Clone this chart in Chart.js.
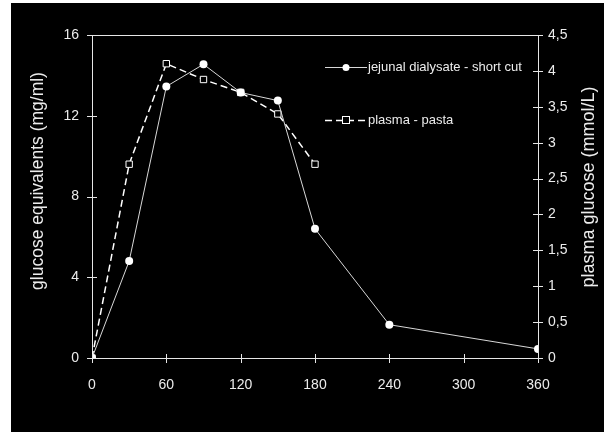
<!DOCTYPE html>
<html>
<head>
<meta charset="utf-8">
<script src="https://cdn.jsdelivr.net/npm/chart.js@4.4.0/dist/chart.umd.min.js"></script>
<style>
  html, body { margin: 0; padding: 0; background: #ffffff; }
  #wrap { position: absolute; left: 11px; top: 3px; width: 593px; height: 429px; background: #000000; }
</style>
</head>
<body>
<div id="wrap"><canvas id="chart" width="593" height="429"></canvas></div>
<script>
// data
const times = [0, 30, 60, 90, 120, 150, 180, 240, 360];
const jejunal = [0, 4.8, 13.45, 14.55, 13.15, 12.75, 6.4, 1.65, 0.45];      // mg/ml, left axis
const plasmaTimes = [0, 30, 60, 90, 120, 150, 180];
const plasma = [0, 2.7, 4.1, 3.88, 3.7, 3.4, 2.7];                          // mmol/L, right axis
const xTicks = [0, 60, 120, 180, 240, 300, 360];
const leftTicks = [0, 4, 8, 12, 16];
const rightTicks = [0, 0.5, 1, 1.5, 2, 2.5, 3, 3.5, 4, 4.5];

const labelJejunal = 'jejunal dialysate - short cut';
const labelPlasma = 'plasma - pasta';
const titleLeft = 'glucose equivalents (mg/ml)';
const titleRight = 'plasma glucose (mmol/L)';

const axisColor = '#e6e6e6';
const textColor = '#ececec';
const FONT = "'Liberation Sans', Arial, sans-serif";

// ticks crossing the axes, top frame line, rotated titles, legend
const decor = {
    id: 'decor',
    afterDraw(chart) {
        const ctx = chart.ctx;
        const a = chart.chartArea;
        const x = chart.scales.x, y = chart.scales.y, y1 = chart.scales.y1;
        ctx.save();
        ctx.strokeStyle = axisColor;
        ctx.lineWidth = 1;
        ctx.beginPath();
        ctx.moveTo(a.left, a.top + 0.5); ctx.lineTo(a.right, a.top + 0.5);
        xTicks.forEach(v => {
            const px = Math.round(x.getPixelForValue(v)) + 0.5;
            ctx.moveTo(px, a.bottom - 4); ctx.lineTo(px, a.bottom + 5);
        });
        leftTicks.forEach(v => {
            const py = Math.round(y.getPixelForValue(v)) + 0.5;
            ctx.moveTo(a.left - 5, py); ctx.lineTo(a.left + 5, py);
        });
        rightTicks.forEach(v => {
            const py = Math.round(y1.getPixelForValue(v)) + 0.5;
            ctx.moveTo(a.right - 5, py); ctx.lineTo(a.right + 5, py);
        });
        ctx.stroke();

        // axis titles, both reading bottom to top
        ctx.fillStyle = textColor;
        ctx.textAlign = 'center';
        ctx.textBaseline = 'middle';
        [[27, 178, 17.5, titleLeft], [578, 184, 18, titleRight]].forEach(([tx, ty, fs, t]) => {
            ctx.save();
            ctx.font = fs + 'px ' + FONT;
            ctx.translate(tx, ty);
            ctx.rotate(-Math.PI / 2);
            ctx.fillText(t, 0, 0);
            ctx.restore();
        });

        // legend
        const ds = chart.data.datasets;
        const rows = [[ds[0], 64], [ds[1], 117]];
        ctx.font = '13px ' + FONT;
        ctx.textAlign = 'left';
        rows.forEach(([d, ly]) => {
            ctx.strokeStyle = d.borderColor;
            ctx.lineWidth = d.borderWidth;
            ctx.setLineDash(d.borderDash || []);
            ctx.beginPath();
            ctx.moveTo(314, ly + 0.5); ctx.lineTo(356, ly + 0.5);
            ctx.stroke();
            ctx.setLineDash([]);
            ctx.lineWidth = 1;
            if (d.pointStyle === 'rect') {
                ctx.fillStyle = d.pointBackgroundColor;
                ctx.fillRect(331, ly - 4, 8, 8);
                ctx.strokeStyle = d.pointBorderColor;
                ctx.strokeRect(331.5, ly - 3.5, 7, 7);
            } else {
                ctx.fillStyle = d.pointBackgroundColor;
                ctx.beginPath();
                ctx.arc(335, ly + 0.5, 3.5, 0, Math.PI * 2);
                ctx.fill();
            }
            ctx.fillStyle = textColor;
            ctx.fillText(d.label, 357, ly);
        });
        ctx.restore();
    }
};

const tickFont = { size: 14, family: FONT };

new Chart(document.getElementById('chart'), {
    type: 'line',
    data: {
        datasets: [
            {
                label: labelJejunal,
                data: times.map((t, i) => ({ x: t, y: jejunal[i] })),
                yAxisID: 'y',
                borderColor: '#d8d8d8',
                borderWidth: 1,
                pointStyle: 'circle',
                pointRadius: 4,
                pointBackgroundColor: '#ffffff',
                pointBorderColor: '#ffffff',
                pointBorderWidth: 0,
                tension: 0
            },
            {
                label: labelPlasma,
                data: plasmaTimes.map((t, i) => ({ x: t, y: plasma[i] })),
                yAxisID: 'y1',
                borderColor: '#ffffff',
                borderWidth: 1.5,
                borderDash: [7, 4],
                pointStyle: 'rect',
                pointRadius: 4.5,
                pointBackgroundColor: '#000000',
                pointBorderColor: '#ffffff',
                pointBorderWidth: 1,
                tension: 0
            }
        ]
    },
    options: {
        responsive: false,
        animation: false,
        layout: { padding: { top: 32, left: 0, right: 0, bottom: 0 } },
        plugins: { legend: { display: false }, tooltip: { enabled: false } },
        scales: {
            x: {
                type: 'linear',
                min: 0, max: 360,
                afterFit: s => { s.height = 74; },
                afterBuildTicks: s => { s.ticks = xTicks.map(v => ({ value: v })); },
                grid: { display: false, drawTicks: false },
                border: { display: true, color: axisColor, width: 1 },
                ticks: { color: textColor, font: tickFont, padding: 19 }
            },
            y: {
                position: 'left',
                min: 0, max: 16,
                afterFit: s => { s.width = 81; },
                afterBuildTicks: s => { s.ticks = leftTicks.map(v => ({ value: v })); },
                grid: { display: false, drawTicks: false },
                border: { display: true, color: axisColor, width: 1 },
                ticks: { color: textColor, font: tickFont, padding: 13 }
            },
            y1: {
                position: 'right',
                min: 0, max: 4.5,
                afterFit: s => { s.width = 66; },
                afterBuildTicks: s => { s.ticks = rightTicks.map(v => ({ value: v })); },
                grid: { display: false, drawTicks: false },
                border: { display: true, color: axisColor, width: 1 },
                ticks: {
                    color: textColor, font: tickFont, padding: 10,
                    callback: v => String(v).replace('.', ',')
                }
            }
        }
    },
    plugins: [decor]
});
</script>
</body>
</html>
